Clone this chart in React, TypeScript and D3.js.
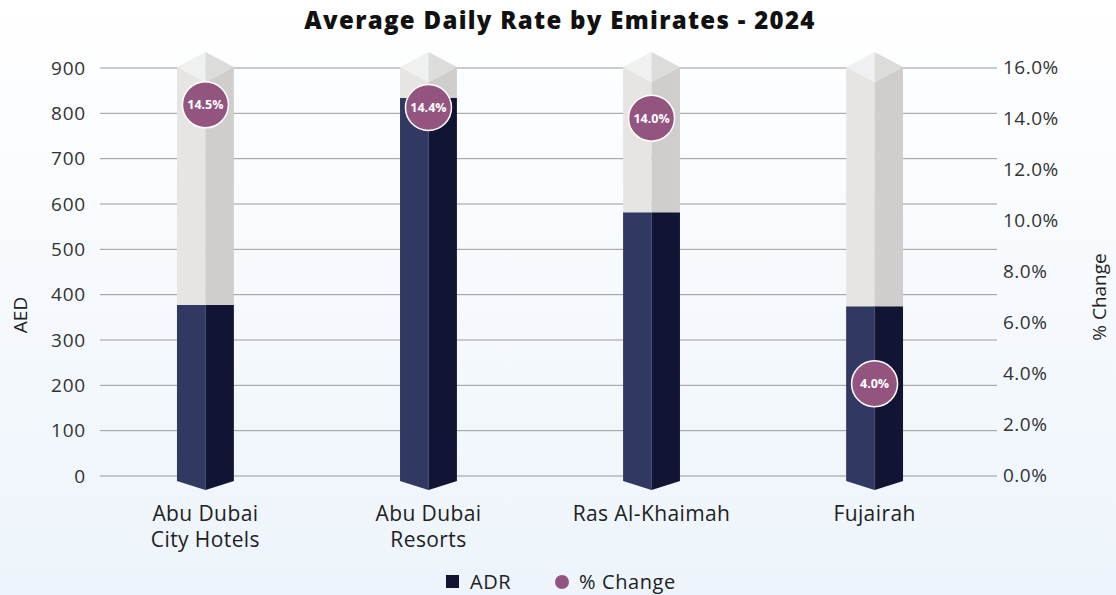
import React from "react";
import * as d3 from "d3";

const categories: string[][] = [
  ["Abu Dubai", "City Hotels"],
  ["Abu Dubai", "Resorts"],
  ["Ras Al-Khaimah"],
  ["Fujairah"],
];
const adrValues = [377, 834, 581, 374];
const pctChange = [14.5, 14.4, 14.0, 4.0];
const leftTicks = [0, 100, 200, 300, 400, 500, 600, 700, 800, 900];
const rightTicks = [0, 2, 4, 6, 8, 10, 12, 14, 16];

const W = 1116;
const H = 595;
const FONT = "'Open Sans', sans-serif";

export default function App() {
  const y = d3.scaleLinear().domain([0, 900]).range([476, 68]);
  const yR = d3.scaleLinear().domain([0, 16]).range([475, 67]);
  const yM = d3.scaleLinear().domain([0, 16]).range([490, 65]);
  const x = d3
    .scaleBand<number>()
    .domain(d3.range(categories.length))
    .range([94, 986])
    .paddingInner(0.745)
    .paddingOuter(0.372);
  const bw = x.bandwidth();
  const yBot = y(0) + 5;
  const yTop = y(900) - 1;
  const capH = 15;
  const botV = 9;

  return (
    <div style={{ position: "fixed", left: 0, top: 0 }}>
      <svg width={W} height={H} style={{ display: "block", fontFamily: FONT }}>
        <defs>
          <linearGradient id="bg" x1="0" y1="0" x2="0" y2="1">
            <stop offset="0" stopColor="#ffffff" />
            <stop offset="1" stopColor="#edf4fb" />
          </linearGradient>
        </defs>
        <rect width={W} height={H} fill="url(#bg)" />
        <text
          x={560}
          y={29}
          textAnchor="middle"
          fontSize={24}
          fontWeight={800}
          letterSpacing={1.3}
          fill="#111"
        >
          Average Daily Rate by Emirates - 2024
        </text>

        {leftTicks.map((t) => (
          <g key={"g" + t}>
            <line x1={100} x2={997} y1={y(t)} y2={y(t)} stroke="#9a9a9a" strokeWidth={1} />
            <text x={86} y={y(t)} dy="0.35em" textAnchor="end" fontSize={19} letterSpacing={0.8} fill="#333">
              {t}
            </text>
          </g>
        ))}
        {rightTicks.map((t) => (
          <text key={"r" + t} x={1003} y={yR(t)} dy="0.35em" textAnchor="start" fontSize={19} letterSpacing={0.5} fill="#333">
            {t.toFixed(1) + "%"}
          </text>
        ))}
        <text
          transform={`translate(27,${315}) rotate(-90)`}
          textAnchor="middle"
          fontSize={19}
          fill="#222"
        >
          AED
        </text>
        <text
          transform={`translate(1106,${297}) rotate(-90)`}
          textAnchor="middle"
          fontSize={19}
          fill="#222"
        >
          % Change
        </text>

        {adrValues.map((v, i) => {
          const x0 = x(i)!;
          const x1 = x0 + bw;
          const xc = x0 + bw / 2;
          const yv = y(v);
          return (
            <g key={"b" + i}>
              <path d={`M${x0},${yTop}L${xc},${yTop + capH}L${xc},${yBot + botV}L${x0},${yBot}Z`} fill="#e6e5e3" />
              <path d={`M${x1},${yTop}L${xc},${yTop + capH}L${xc},${yBot + botV}L${x1},${yBot}Z`} fill="#cfcecc" />
              <path d={`M${x0},${yTop}L${xc},${yTop - capH}L${xc},${yTop + capH}Z`} fill="#eff0f1" />
              <path d={`M${x1},${yTop}L${xc},${yTop - capH}L${xc},${yTop + capH}Z`} fill="#dcdcdb" />
              <path d={`M${x0},${yv}L${xc},${yv}L${xc},${yBot + botV}L${x0},${yBot}Z`} fill="#313862" />
              <path d={`M${x1},${yv}L${xc},${yv}L${xc},${yBot + botV}L${x1},${yBot}Z`} fill="#111533" />
              <line x1={xc} x2={xc} y1={yv} y2={yBot + botV} stroke="#4a5078" strokeWidth={0.6} />
            </g>
          );
        })}

        {pctChange.map((p, i) => {
          const xc = x(i)! + bw / 2;
          const cy = yM(p);
          return (
            <g key={"c" + i}>
              <circle cx={xc} cy={cy} r={23} fill="#935580" stroke="#ffffff" strokeWidth={1.5} />
              <text x={xc} y={cy} dy="0.36em" textAnchor="middle" fontSize={12.5} fontWeight={700} fill="#fff">
                {p.toFixed(1) + "%"}
              </text>
            </g>
          );
        })}

        {categories.map((lines, i) => {
          const xc = x(i)! + bw / 2;
          return (
            <text key={"l" + i} x={xc} y={521} textAnchor="middle" fontSize={21} letterSpacing={0.4} fill="#222">
              {lines.map((ln, j) => (
                <tspan key={j} x={xc} dy={j === 0 ? 0 : 26}>
                  {ln}
                </tspan>
              ))}
            </text>
          );
        })}

        <rect x={446} y={575} width={13} height={13} fill="#111533" />
        <text x={470} y={582} dy="0.35em" fontSize={20} letterSpacing={0.6} fill="#222">ADR</text>
        <circle cx={562} cy={582} r={7} fill="#935580" />
        <text x={579} y={582} dy="0.35em" fontSize={20} letterSpacing={0.6} fill="#222">% Change</text>
      </svg>
    </div>
  );
}
